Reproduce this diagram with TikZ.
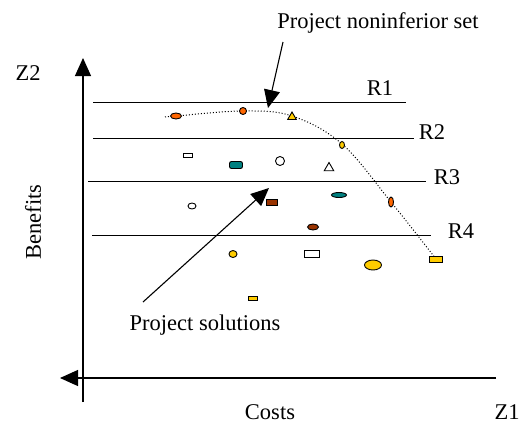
\documentclass[tikz,border=0pt]{standalone}
\usepackage{fontspec}
\setmainfont{Liberation Serif}
\usetikzlibrary{arrows.meta,shapes.geometric}
\definecolor{orng}{RGB}{255,102,0}
\definecolor{yel}{RGB}{255,204,0}
\definecolor{tl}{RGB}{0,128,128}
\definecolor{brn}{RGB}{153,51,0}
\begin{document}
\begin{tikzpicture}[x=1pt,y=-1pt,
  lbl/.style={font=\fontsize{22.5}{27}\selectfont, inner sep=0pt},
  mk/.style={draw=black, line width=0.9pt, inner sep=0pt},
  ell/.style={mk, ellipse},
  box/.style={mk, rectangle},
  tri/.style={mk, regular polygon, regular polygon sides=3},
  rline/.style={line width=1pt},
  axis/.style={line width=1.1pt},
  big/.style={-{Triangle[length=18pt,width=16pt]}},
  path/.style={dotted, line width=1pt}
]
\useasboundingbox (0,0) rectangle (522,424);

% axes
\coordinate (vtop) at (83,58);
\coordinate (vbot) at (83,402);
\coordinate (hleft) at (60,378);
\coordinate (hright) at (496,378);
\draw[axis,big] (vbot) -- (vtop);
\draw[axis,big] (hright) -- (hleft);

% R lines
\coordinate (r1a) at (93,102);  \coordinate (r1b) at (406,102);
\coordinate (r2a) at (93,138);  \coordinate (r2b) at (414,138);
\coordinate (r3a) at (88,181);  \coordinate (r3b) at (426,181);
\coordinate (r4a) at (92,235);  \coordinate (r4b) at (431,235);
\draw[rline] (r1a) -- (r1b);
\draw[rline] (r2a) -- (r2b);
\draw[rline] (r3a) -- (r3b);
\draw[rline] (r4a) -- (r4b);

% labels
\node[lbl] (z2) at (28,73) {Z2};
\node[lbl] (z1) at (507,412) {Z1};
\node[lbl] (costs) at (270,412) {Costs};
\node[lbl, rotate=90] (benefits) at (33,222) {Benefits};
\node[lbl] (lr1) at (380,88) {R1};
\node[lbl] (lr2) at (432,132) {R2};
\node[lbl] (lr3) at (447,177) {R3};
\node[lbl] (lr4) at (461,231) {R4};
\node[lbl] (pns) at (378,23) {Project noninferior set};
\node[lbl] (psol) at (205,325) {Project solutions};

% dotted noninferior curve
\draw[path] plot[smooth, tension=0.6] coordinates {(165,117) (176,116) (243,111) (292,116) (342,144) (391,202) (436,259)};

% markers
\node[ell, fill=orng, minimum width=11pt, minimum height=6pt] (s1) at (176,116) {};
\node[ell, fill=orng, minimum width=7pt, minimum height=7pt] (s2) at (243,111) {};
\node[tri, fill=yel, minimum size=10pt] (s3) at (292,117) {};
\node[ell, fill=yel, minimum width=5pt, minimum height=7pt] (s4) at (342,145) {};
\node[box, fill=white, minimum width=9pt, minimum height=4pt] (s5) at (188,155) {};
\node[box, fill=tl, rounded corners=2pt, minimum width=13pt, minimum height=7pt] (s6) at (236,165) {};
\node[ell, fill=white, minimum width=9pt, minimum height=9pt] (s7) at (280,161) {};
\node[tri, fill=white, minimum size=11pt] (s8) at (329,168) {};
\node[ell, fill=tl, minimum width=15pt, minimum height=5pt] (s9) at (339,195) {};
\node[ell, fill=white, minimum width=8pt, minimum height=6pt] (s10) at (192,206) {};
\node[box, fill=brn, minimum width=11pt, minimum height=6pt] (s11) at (272,202) {};
\node[ell, fill=orng, minimum width=5pt, minimum height=10pt] (s12) at (391,202) {};
\node[ell, fill=brn, minimum width=11pt, minimum height=6pt] (s13) at (313,227) {};
\node[ell, fill=yel, minimum width=8pt, minimum height=7pt] (s14) at (233,254) {};
\node[box, fill=white, minimum width=15pt, minimum height=7pt] (s15) at (312,254) {};
\node[ell, fill=yel, minimum width=17pt, minimum height=10pt] (s16) at (373,265) {};
\node[box, fill=yel, minimum width=13pt, minimum height=6pt] (s17) at (436,259) {};
\node[box, fill=yel, minimum width=9pt, minimum height=4pt] (s18) at (253,298) {};

% pointer arrows
\coordinate (a1s) at (283,42);
\coordinate (a1e) at (268,108);
\coordinate (a2s) at (143,302);
\coordinate (a2e) at (269,188);
\draw[line width=1.1pt, big] (a1s) -- (a1e);
\draw[line width=1.1pt, big] (a2s) -- (a2e);
\end{tikzpicture}
\end{document}
